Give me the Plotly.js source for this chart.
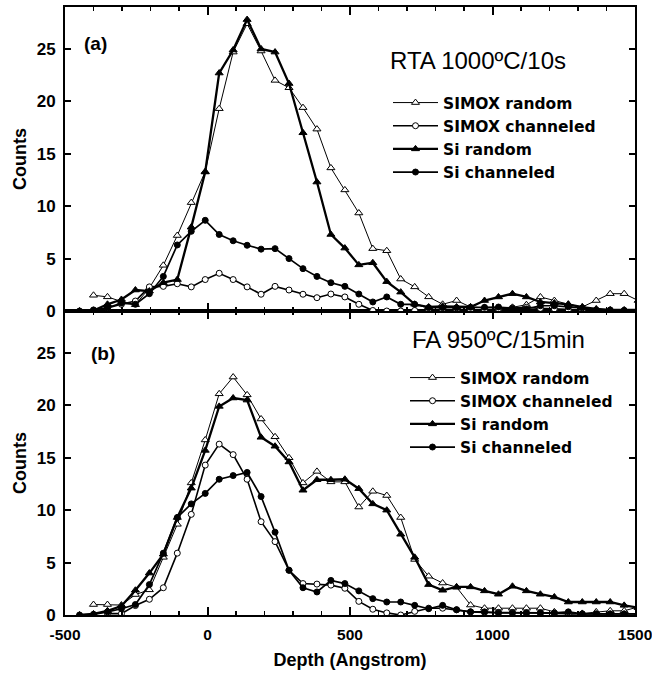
<!DOCTYPE html>
<html>
<head>
<meta charset="utf-8">
<script src="https://cdn.plot.ly/plotly-3.0.1.min.js"></script>
<style>html,body{margin:0;padding:0;background:#fff;}#chart{width:652px;height:674px;}</style>
</head>
<body>
<div id="chart"></div>
<script>
// Depth channels (Angstrom)
var depth = [-449, -400, -351, -302, -253, -204, -155, -106, -57, -8, 41, 90, 139, 188, 237, 286, 335, 384, 433, 482, 531, 580, 629, 678, 727, 776, 825, 874, 923, 972, 1021, 1070, 1119, 1168, 1217, 1266, 1315, 1364, 1413, 1462, 1511];

var seriesNames = ["SIMOX random", "SIMOX channeled", "Si random", "Si channeled"];

// (a) RTA 1000ºC/10s
var rtaSimoxRandom = [null, 1.5, 1.35, 0.9, 0.6, 2.2, 4.36, 7.2, 10.34, 13.3, 19.3, 24.7, 27.4, 24.8, 22.0, 21.3, 19.4, 17.35, 13.65, 11.55, 9.35, 5.95, 5.75, 3.05, 2.3, 1.35, 0.64, 1.0, 0.38, 0.3, 0.3, 0.35, 0.6, 1.34, 1.0, 0.64, 0.38, 1.0, 1.65, 1.65, 1.0];
var rtaSimoxChanneled = [null, 0.1, 0.3, 0.64, 0.95, 2.3, 2.35, 2.6, 2.3, 3.0, 3.6, 3.0, 2.3, 1.6, 2.35, 2.0, 1.6, 1.27, 1.62, 1.34, 0.64, 0.05, 0, 0, 0.05, 0.1, 0.1, 0.05, 0.1, 0.1, 0.2, 0.3, 0.35, 0.25, 0.2, 0.1, 0.05, 0, 0, 0.05, 0.05];
var rtaSiRandom = [0, 0.05, 0.64, 1.1, 2.0, 1.9, 2.7, 3.0, 8.0, 13.26, 22.7, 24.9, 27.8, 25.0, 24.7, 21.7, 17.0, 12.3, 7.3, 6.0, 4.4, 4.6, 2.8, 1.8, 0.64, 0.38, 0.45, 0.38, 0.38, 1.0, 1.34, 1.65, 1.34, 0.86, 0.76, 0.64, 0.38, 0.2, 0.1, 0.1, 0.1];
var rtaSiChanneled = [0, 0.07, 0.3, 0.76, 0.64, 1.65, 3.3, 6.3, 7.6, 8.65, 7.3, 6.7, 6.27, 5.9, 5.95, 5.0, 4.04, 3.3, 2.7, 2.35, 1.62, 0.86, 1.34, 0.64, 0.64, 0.32, 0.32, 0.3, 0.35, 0.35, 0.38, 0.25, 0.2, 0.5, 0.5, 0.4, 0.3, 0.1, 0.1, 0.05, 0.05];

// (b) FA 950ºC/15min
var faSimoxRandom = [null, 1.0, 1.0, 0.95, 1.95, 2.4, 5.5, 8.65, 12.6, 16.7, 21.1, 22.7, 21.0, 18.7, 17.0, 15.0, 12.6, 13.7, 12.7, 12.7, 10.3, 11.8, 11.4, 9.3, 5.3, 3.7, 3.05, 2.65, 0.95, 0.65, 0.65, 0.65, 0.65, 0.65, 0.3, 0.05, 0.15, 0.3, 0.4, 0.4, 0.77];
var faSimoxChanneled = [null, null, 0.13, 0.13, 0.9, 1.5, 2.6, 5.9, 9.6, 14.3, 16.3, 15.3, 12.95, 8.9, 7.0, 4.27, 3.0, 2.95, 2.85, 2.55, 1.3, 0.55, 0.2, 0.0, 0.35, 0.65, 0.65, 0.5, 0.3, 0.25, 0.25, 0.25, 0.2, 0.2, 0.15, 0.1, 0.1, 0.1, 0.1, 0.1, 0.1];
var faSiRandom = [0, 0.1, 0.4, 0.86, 2.36, 4.0, 5.8, 9.3, 12.1, 15.7, 19.9, 20.7, 20.5, 16.95, 16.1, 14.6, 11.9, 12.9, 12.9, 12.95, 12.05, 10.6, 10.0, 7.7, 5.5, 2.9, 2.36, 2.68, 2.68, 2.3, 1.98, 2.74, 2.3, 1.98, 1.72, 1.24, 1.24, 1.24, 1.24, 0.92, 0.7];
var faSiChanneled = [0, 0.06, 0.3, 0.6, 1.0, 2.9, 5.9, 9.3, 10.6, 11.6, 12.95, 13.3, 13.6, 11.3, 7.9, 4.27, 2.6, 2.2, 3.3, 3.0, 2.3, 1.56, 1.24, 1.24, 0.92, 0.6, 0.92, 0.5, 0.3, 0.3, 0.2, 0.2, 0.2, 0.2, 0.2, 0.3, 0.1, 0.1, 0.1, 0.1, 0.1];

var xTickVals = [-500, 0, 500, 1000, 1500];
var xTickText = ["-500", "0", "500", "1000", "1500"];

var FONT = "Liberation Sans, Arial, Helvetica, sans-serif";
var LEGFONT = "DejaVu Sans, Liberation Sans, Arial, sans-serif";

var styles = [
  {symbol: "triangle-up", size: 7, fill: "#fff", lw: 1},
  {symbol: "circle", size: 6, fill: "#fff", lw: 1.6},
  {symbol: "triangle-up", size: 7, fill: "#000", lw: 2.3},
  {symbol: "circle", size: 6, fill: "#000", lw: 1.7}
];

function makeTraces(seriesList, xa, ya, legendId) {
  return seriesList.map(function (ys, i) {
    var s = styles[i];
    return {
      x: depth, y: ys, xaxis: xa, yaxis: ya, legend: legendId,
      name: seriesNames[i], type: "scatter", mode: "lines+markers",
      line: {color: "#000", width: s.lw},
      marker: {symbol: s.symbol, size: s.size, color: s.fill, line: {color: "#000", width: 1}},
      cliponaxis: true
    };
  });
}

var traces = []
  .concat(makeTraces([rtaSimoxRandom, rtaSimoxChanneled, rtaSiRandom, rtaSiChanneled], "x2", "y2", "legend"))
  .concat(makeTraces([faSimoxRandom, faSimoxChanneled, faSiRandom, faSiChanneled], "x", "y", "legend2"));

var H = 674, T = 7, B = 59;
function py(p) { return (H - B - p) / (H - B - T); }   // pixel y -> paper
function px(p) { return (p - 65) / 570; }              // pixel x -> paper

var xBase = {
  range: [-500, 1500], showline: true, linewidth: 2, linecolor: "#000",
  mirror: "ticks", ticks: "inside", ticklen: 8, tickwidth: 2, tickcolor: "#000",
  tickmode: "array", tickvals: xTickVals, ticktext: xTickText,
  minor: {dtick: 100, tick0: 0, ticks: "inside", ticklen: 4, tickwidth: 1.5, tickcolor: "#000"},
  showgrid: false, zeroline: false, ticklabelstandoff: 4, ticklabeloverflow: "allow",
  tickfont: {family: FONT, size: 15.5, color: "#000", weight: "bold"}
};
var yBase = {
  range: [0, 29], dtick: 5, tick0: 0, showline: true, linewidth: 2, linecolor: "#000",
  mirror: "ticks", ticks: "inside", ticklen: 6, tickwidth: 2, tickcolor: "#000",
  showgrid: false, zeroline: false, ticklabelstandoff: 4,
  tickfont: {family: FONT, size: 17, color: "#000", weight: "bold"},
  title: {text: "Counts", standoff: 5, font: {family: FONT, size: 18, color: "#000", weight: "bold"}}
};

var layout = {
  width: 652, height: 674,
  margin: {l: 65, r: 17, t: T, b: B},
  paper_bgcolor: "#fff", plot_bgcolor: "#fff",
  showlegend: true,
  xaxis: Object.assign({}, xBase, {domain: [0, 1], anchor: "y",
    title: {text: "Depth (Angstrom)", standoff: 12, font: {family: FONT, size: 18, color: "#000", weight: "bold"}}}),
  xaxis2: Object.assign({}, xBase, {domain: [0, 1], anchor: "y2", matches: "x", showticklabels: false}),
  yaxis: Object.assign({}, yBase, {domain: [0, 0.5], anchor: "x"}),
  yaxis2: Object.assign({}, yBase, {domain: [0.5, 1], anchor: "x2"}),
  legend: {x: px(388), y: py(86), xanchor: "left", yanchor: "top", bgcolor: "rgba(0,0,0,0)",
    font: {family: LEGFONT, size: 15.5, color: "#000", weight: "bold"}, itemwidth: 45, tracegroupgap: 0},
  legend2: {x: px(405), y: py(361), xanchor: "left", yanchor: "top", bgcolor: "rgba(0,0,0,0)",
    font: {family: LEGFONT, size: 15.5, color: "#000", weight: "bold"}, itemwidth: 45, tracegroupgap: 0},
  annotations: [
    {text: "(a)", xref: "paper", yref: "paper", x: px(82), y: py(44), xanchor: "left", yanchor: "middle",
     showarrow: false, font: {family: FONT, size: 19, color: "#000", weight: "bold"}},
    {text: "(b)", xref: "paper", yref: "paper", x: px(89), y: py(353), xanchor: "left", yanchor: "middle",
     showarrow: false, font: {family: FONT, size: 19, color: "#000", weight: "bold"}},
    {text: "RTA 1000ºC/10s", xref: "paper", yref: "paper", x: px(388), y: py(60), xanchor: "left", yanchor: "middle",
     showarrow: false, font: {family: FONT, size: 24, color: "#000"}},
    {text: "FA 950ºC/15min", xref: "paper", yref: "paper", x: px(410), y: py(339), xanchor: "left", yanchor: "middle",
     showarrow: false, font: {family: FONT, size: 24, color: "#000"}}
  ]
};

Plotly.newPlot("chart", traces, layout, {displayModeBar: false, staticPlot: true});
</script>
</body>
</html>
